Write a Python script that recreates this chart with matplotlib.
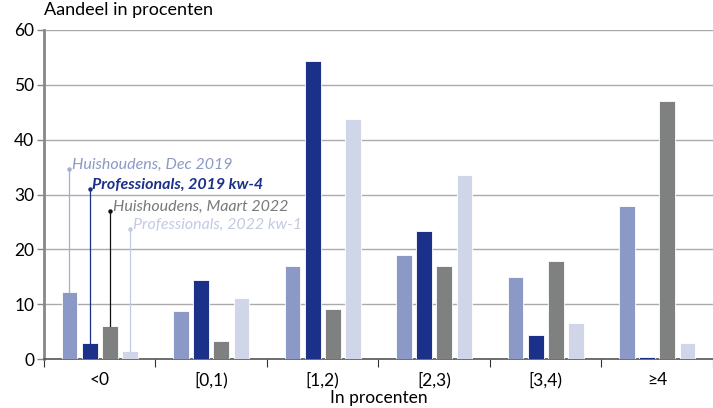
import matplotlib
matplotlib.use("Agg")
import matplotlib.pyplot as plt
import numpy as np

plt.rcParams['font.family'] = ['Lato', 'DejaVu Sans']

categories = ["<0", "[0,1)", "[1,2)", "[2,3)", "[3,4)", "≥4"]
series_names = ["Huishoudens, Dec 2019", "Professionals, 2019 kw-4",
                "Huishoudens, Maart 2022", "Professionals, 2022 kw-1"]
hh_2019 = [12.2, 8.7, 16.9, 18.9, 14.9, 27.9]
prof_2019 = [2.9, 14.4, 54.3, 23.3, 4.3, 0.3]
hh_2022 = [6.0, 3.2, 9.1, 16.9, 17.9, 47.0]
prof_2022 = [1.5, 11.1, 43.7, 33.5, 6.5, 3.0]
label_heights = [34.7, 31.0, 27.0, 23.7]
colors = ["#8C99C6", "#1B3088", "#7F8180", "#D0D6E8"]
text_colors = ["#8C99C6", "#1B3088", "#77797A", "#C3CAE2"]
line_colors = ["#A3AED2", "#1B3088", "#111111", "#C3CAE2"]

fig = plt.figure(figsize=(7.13, 4.08), dpi=100)
ax = fig.add_axes([0.0617, 0.120, 0.9383, 0.8065])

x = np.arange(len(categories))
pitch = 0.181
width = 0.142
all_series = [hh_2019, prof_2019, hh_2022, prof_2022]
for i, vals in enumerate(all_series):
    off = (i - 1.5) * pitch
    ax.bar(x + off, vals, width=width, color=colors[i], edgecolor="white",
           linewidth=0.6, zorder=3)
    # leader line from first bar to label
    x0 = x[0] + off
    ax.plot([x0, x0], [vals[0], label_heights[i]], color=line_colors[i],
            lw=0.9, zorder=4)
    ax.plot([x0], [label_heights[i]], marker="o", ms=2.2, color=line_colors[i], zorder=4)
    ax.text(x0 + 0.025, label_heights[i] + 0.75, series_names[i], color=text_colors[i],
            fontsize=11.5, style="italic",
            fontweight="bold" if i == 1 else "normal",
            va="center", ha="left", zorder=5)

ax.set_xlim(-0.5, 5.45)
ax.set_ylim(0, 60)
ax.set_yticks(np.arange(0, 61, 10))
ax.yaxis.grid(True, color="#AAAAAA", lw=1.0, zorder=0)
ax.set_axisbelow(True)

ax.set_xticks(x)
ax.set_xticklabels(categories, fontsize=12.5)
ax.set_xticks(np.arange(-0.5, 5.6, 1), minor=True)
ax.tick_params(axis="x", which="major", length=0, pad=9)
ax.tick_params(axis="x", which="minor", length=6, color="#333333", width=0.8)
ax.tick_params(axis="y", length=5, color="#888888", width=1, labelsize=12.5, pad=2)

for s in ["top", "right"]:
    ax.spines[s].set_visible(False)
ax.spines["left"].set_color("#888888")
ax.spines["left"].set_linewidth(2)
ax.spines["bottom"].set_color("#555555")
ax.spines["bottom"].set_linewidth(1.2)

ax.set_xlabel("In procenten", fontsize=12.5, labelpad=1.5)
fig.text(0.0617, 0.955, "Aandeel in procenten", fontsize=13, ha="left", va="bottom")

fig.savefig("out.png", dpi=100)
